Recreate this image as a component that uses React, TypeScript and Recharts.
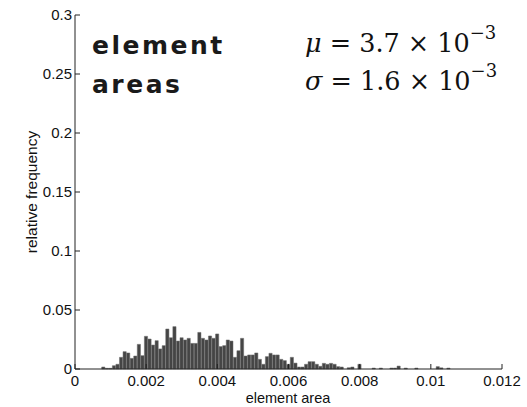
import { ComposedChart, Bar, XAxis, YAxis } from "recharts";

// histogram bins: 0.0001 wide, first centre at 0.0008
const binStart = 0.0008;
const binWidth = 0.0001;

// relative frequency per bin
const freq = [
  0.0017, 0.0006, 0.0006, 0.0028, 0.004, 0.0099, 0.0147, 0.0136, 0.009, 0.011,
  0.0209, 0.0113, 0.0277, 0.0254, 0.0203, 0.024, 0.017, 0.0198, 0.0339, 0.0265,
  0.0359, 0.0237, 0.0265, 0.0246, 0.026, 0.0217, 0.0217, 0.031, 0.026, 0.0246,
  0.028, 0.026, 0.0297, 0.019, 0.0198, 0.0246, 0.0237, 0.0099, 0.0155, 0.026,
  0.011, 0.0119, 0.0119, 0.0136, 0.0082, 0.004, 0.0105, 0.0133, 0.0119, 0.0119,
  0.0082, 0.0071, 0.004, 0.0099, 0.005, 0.0017, 0.0017, 0.004, 0.0062, 0.0062,
  0.004, 0.0023, 0.0048, 0.004, 0.0048, 0.004, 0.002, 0.0017, 0, 0.0011,
  0.0017, 0, 0.004, 0, 0, 0, 0.0008, 0, 0.0008, 0,
  0, 0.0008, 0.0008, 0.0025, 0, 0.0008, 0, 0, 0.0008, 0,
  0, 0, 0, 0, 0.002, 0.001, 0, 0.0008,
];

const xTicks = [0, 0.002, 0.004, 0.006, 0.008, 0.01, 0.012];
const yTicks = [0, 0.05, 0.1, 0.15, 0.2, 0.25, 0.3];

const data = freq.map((f, i) => ({ x: +(binStart + i * binWidth).toFixed(5), f }));

const font = "'Liberation Sans', Arial, Helvetica, sans-serif";
const tickStyle = { fontSize: 15, fill: "#111", fontFamily: font };
const frame = { stroke: "#222", strokeWidth: 1 };

export default function App() {
  return (
    <div style={{ position: "absolute", left: 0, top: 0, width: 527, height: 407, background: "#fff" }}>
      <ComposedChart
        width={527}
        height={407}
        data={data}
        margin={{ top: 15, right: 25, bottom: 0, left: 0 }}
      >
        <XAxis
          dataKey="x"
          type="number"
          domain={[0, 0.012]}
          ticks={xTicks}
          tickFormatter={(v) => String(v)}
          height={38}
          tickSize={-5}
          tickMargin={11}
          tick={tickStyle}
          axisLine={frame}
          tickLine={frame}
        />
        <XAxis
          xAxisId="top"
          orientation="top"
          type="number"
          domain={[0, 0.012]}
          ticks={xTicks}
          height={0}
          tickSize={-5}
          tick={false}
          axisLine={frame}
          tickLine={frame}
        />
        <YAxis
          type="number"
          domain={[0, 0.3]}
          ticks={yTicks}
          tickFormatter={(v) => String(v)}
          width={75}
          tickSize={-5}
          tickMargin={8}
          tick={tickStyle}
          axisLine={frame}
          tickLine={frame}
        />
        <YAxis
          yAxisId="right"
          orientation="right"
          type="number"
          domain={[0, 0.3]}
          ticks={yTicks}
          width={0}
          tickSize={-5}
          tick={false}
          axisLine={frame}
          tickLine={frame}
        />
        <Bar dataKey="f" fill="#454545" stroke="#6a6a6a" strokeWidth={0.5} barSize={3.56} isAnimationActive={false} />
      </ComposedChart>
      <svg width={527} height={407} style={{ position: "absolute", left: 0, top: 0, pointerEvents: "none" }}>
        <text x={288} y={403} textAnchor="middle" fontFamily={font} fontSize={14.5} fill="#111">element area</text>
        <text x={0} y={0} transform="translate(37,192) rotate(-90)" textAnchor="middle" fontFamily={font} fontSize={15.5} fill="#111">relative frequency</text>
        <g fontFamily="'DejaVu Sans', sans-serif" fontWeight="bold" fontSize={25} fill="#1a1a1a" letterSpacing={2.5}>
          <text x={92} y={54}>element</text>
          <text x={92} y={93}>areas</text>
        </g>
        <g fontFamily="'DejaVu Serif', 'Liberation Serif', serif" fontSize={25.5} fill="#111">
          <text x={305} y={52}>
            <tspan fontStyle="italic">μ</tspan> = 3.7 × 10
            <tspan dy={-13} fontSize={18}>−3</tspan>
          </text>
          <text x={305} y={90}>
            <tspan fontStyle="italic">σ</tspan> = 1.6 × 10
            <tspan dy={-13} fontSize={18}>−3</tspan>
          </text>
        </g>
      </svg>
    </div>
  );
}
